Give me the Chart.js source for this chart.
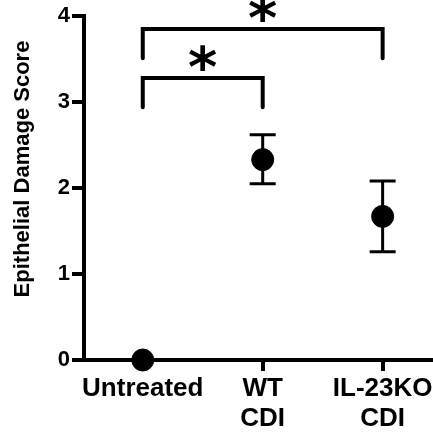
<!DOCTYPE html>
<html>
<head>
<meta charset="utf-8">
<script src="https://cdn.jsdelivr.net/npm/chart.js@4"></script>
<style>
  body { margin: 0; background: #fff; }
  #wrap { width: 433px; height: 432px; }
</style>
</head>
<body>
<div id="wrap"><canvas id="chart"></canvas></div>
<script>
// groups and values
const groups = ["Untreated", ["WT", "CDI"], ["IL-23KO", "CDI"]];
const means = [0, 2.33, 1.67];
const errLow = [0, 2.05, 1.26];
const errHigh = [0, 2.62, 2.08];
const yTicks = [0, 1, 2, 3, 4];

// significance brackets: from group, to group, bar level, leg end
const bracketFrom = [0, 0];
const bracketTo = [1, 2];
const bracketTop = [3.28, 3.85];
const bracketLeg = [2.94, 3.51];
const bracketMark = ["*", "*"];

const FONT = "'Liberation Sans', Arial, Helvetica, sans-serif";

const bracketSets = bracketFrom.map((f, i) => ({
  type: "line",
  data: [
    {x: f, y: bracketLeg[i]},
    {x: f, y: bracketTop[i]},
    {x: bracketTo[i], y: bracketTop[i]},
    {x: bracketTo[i], y: bracketLeg[i]},
  ],
  borderColor: "#000",
  borderWidth: 4,
  borderCapStyle: "round",
  borderJoinStyle: "miter",
  pointRadius: 0,
  showLine: true,
  clip: false,
}));

const errorBars = {
  id: "errorBars",
  beforeDatasetsDraw(chart) {
    const ctx = chart.ctx;
    const xs = chart.scales.x, ys = chart.scales.y;
    ctx.save();
    ctx.strokeStyle = "#000";
    ctx.lineWidth = 3;
    means.forEach((m, i) => {
      if (errHigh[i] === errLow[i]) return;
      const x = xs.getPixelForValue(i);
      const top = ys.getPixelForValue(errHigh[i]);
      const bot = ys.getPixelForValue(errLow[i]);
      ctx.beginPath();
      ctx.moveTo(x, top); ctx.lineTo(x, bot);
      ctx.moveTo(x - 13, top); ctx.lineTo(x + 13, top);
      ctx.moveTo(x - 13, bot); ctx.lineTo(x + 13, bot);
      ctx.stroke();
    });
    ctx.restore();
  }
};

const extraText = {
  id: "extraText",
  afterDraw(chart) {
    const ctx = chart.ctx;
    const xs = chart.scales.x, ys = chart.scales.y;
    ctx.save();
    ctx.fillStyle = "#000";
    // asterisks over the brackets
    ctx.font = "bold 56px 'DejaVu Sans', sans-serif";
    ctx.textAlign = "center";
    ctx.textBaseline = "middle";
    bracketFrom.forEach((f, i) => {
      const x = xs.getPixelForValue((f + bracketTo[i]) / 2);
      const y = ys.getPixelForValue(bracketTop[i] + 0.22);
      ctx.fillText(bracketMark[i], x, y + 12);
    });
    // y axis title
    ctx.font = "bold 22px " + FONT;
    ctx.translate(23, 169);
    ctx.rotate(-Math.PI / 2);
    ctx.fillText("Epithelial Damage Score", 0, 0);
    ctx.restore();
  }
};

new Chart(document.getElementById("chart"), {
  type: "scatter",
  data: {
    datasets: [
      {
        data: means.map((m, i) => ({x: i, y: m})),
        backgroundColor: "#000",
        borderColor: "#000",
        pointRadius: 11,
        pointHoverRadius: 11,
        clip: false,
      },
      ...bracketSets,
    ],
  },
  options: {
    responsive: true,
    maintainAspectRatio: false,
    animation: false,
    events: [],
    layout: {autoPadding: false, padding: {top: 16, left: 0, right: 0, bottom: 0}},
    plugins: {legend: {display: false}, tooltip: {enabled: false}},
    scales: {
      x: {
        type: "linear",
        min: -0.49,
        max: 2.42,
        afterBuildTicks: (s) => { s.ticks = groups.map((g, i) => ({value: i})); },
        afterFit: (s) => { s.height = 72; s.paddingLeft = 0; s.paddingRight = 0; },
        border: {color: "#000", width: 4},
        grid: {drawOnChartArea: false, drawTicks: true, tickLength: 11, lineWidth: 4, color: "#000"},
        ticks: {
          color: "#000",
          padding: 3,
          maxRotation: 0,
          autoSkip: false,
          font: {family: FONT, size: 26, weight: "bold", lineHeight: 1.15},
          callback: (v) => groups[v],
        },
      },
      y: {
        min: 0,
        max: 4,
        afterBuildTicks: (s) => { s.ticks = yTicks.map((v) => ({value: v})); },
        afterFit: (s) => { s.width = 84; },
        border: {color: "#000", width: 4},
        grid: {drawOnChartArea: false, drawTicks: true, tickLength: 12, lineWidth: 4, color: "#000"},
        ticks: {
          color: "#000",
          padding: 2,
          font: {family: FONT, size: 22, weight: "bold"},
        },
      },
    },
  },
  plugins: [errorBars, extraText],
});
</script>
</body>
</html>
